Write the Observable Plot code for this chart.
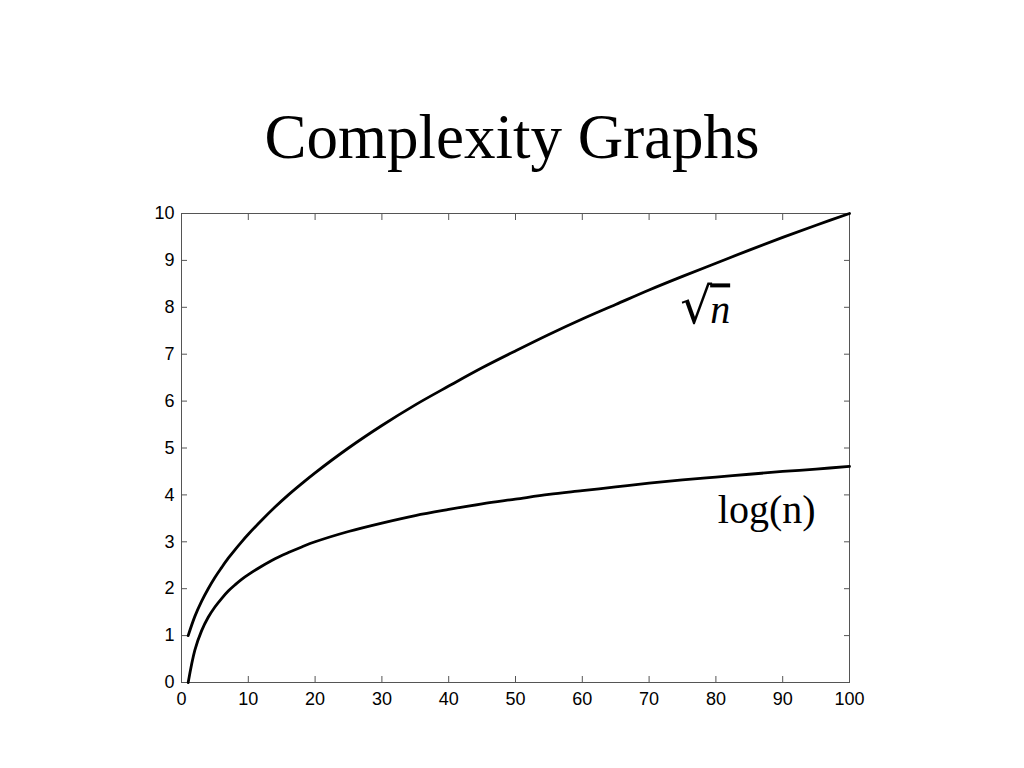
<!DOCTYPE html>
<html>
<head>
<meta charset="utf-8">
<script src="https://cdn.jsdelivr.net/npm/d3@7"></script>
<script src="https://cdn.jsdelivr.net/npm/@observablehq/plot@0.6"></script>
<style>
  html, body { margin: 0; padding: 0; background: #fff; }
  #title { margin: 0; padding-top: 106px; height: 62px; line-height: 62px; font-size: 63px;
           font-family: "Liberation Serif", "Times New Roman", serif; font-weight: normal;
           text-align: center; color: #000; }
  #chart svg { display: block; }
</style>
</head>
<body>
<div id="title">Complexity Graphs</div>
<div id="chart"></div>
<script>
// Values
const n = [1,2,3,4,5,6,7,8,9,10,12,14,16,18,20,25,30,35,40,45,50,55,60,65,70,75,80,85,90,95,100];
const sqrtValues = [1,1.41,1.73,2,2.24,2.45,2.65,2.83,3,3.16,3.46,3.74,4,4.24,4.47,5,5.48,5.92,6.32,6.71,7.07,7.42,7.75,8.06,8.37,8.66,8.94,9.22,9.49,9.75,10];
const logValues = [0,0.69,1.10,1.39,1.61,1.79,1.95,2.08,2.20,2.30,2.48,2.64,2.77,2.89,3.00,3.22,3.40,3.56,3.69,3.81,3.91,4.01,4.09,4.17,4.25,4.32,4.38,4.44,4.50,4.55,4.61];
const xTicks = [0,10,20,30,40,50,60,70,80,90,100];
const yTicks = [0,1,2,3,4,5,6,7,8,9,10];
const labelNames = ["√n", "log(n)"];
const labelX = [78.4, 87.6];
const labelY = [7.93, 3.67];

const series = [
  ...n.map((v, i) => ({n: v, value: sqrtValues[i], series: "sqrt"})),
  ...n.map((v, i) => ({n: v, value: logValues[i], series: "log"}))
];
const labels = labelNames.map((t, i) => ({text: t, x: labelX[i], y: labelY[i]}));

const axisColor = "#555";
const tickFont = {fontSize: 18, fontFamily: "'Liberation Sans', Arial, sans-serif", fill: "#000"};

const chart = Plot.plot({
  width: 1024,
  height: 564,
  marginTop: 45,
  marginBottom: 50,
  marginLeft: 181,
  marginRight: 175,
  style: {background: "#fff", overflow: "visible"},
  x: {domain: [0, 100]},
  y: {domain: [0, 10]},
  marks: [
    Plot.frame({stroke: axisColor, strokeWidth: 1}),
    Plot.axisX(xTicks, {anchor: "bottom", tickSize: -6, tickPadding: 16, stroke: axisColor, label: null, ...tickFont}),
    Plot.axisX(xTicks, {anchor: "top", tickSize: -6, tickFormat: () => "", stroke: axisColor, label: null}),
    Plot.axisY(yTicks, {anchor: "left", tickSize: -6, tickPadding: 13, stroke: axisColor, label: null, ...tickFont}),
    Plot.axisY(yTicks, {anchor: "right", tickSize: -6, tickFormat: () => "", stroke: axisColor, label: null}),
    Plot.line(series, {x: "n", y: "value", z: "series", stroke: "#000", strokeWidth: 2.8, curve: "catmull-rom"}),
    Plot.text(labels, {x: "x", y: "y", text: "text", fontSize: 40, fill: "#000",
      fontFamily: "'Liberation Serif', 'Times New Roman', serif", textAnchor: "middle", className: "annot"})
  ]
});
document.getElementById("chart").appendChild(chart);

// Style the square-root label: larger radical plus italic n with a thin overbar
d3.select(chart).selectAll(".annot text").each(function () {
  const el = d3.select(this);
  if (el.text() === "√n") {
    el.text("");
    el.append("tspan").attr("font-size", 50).attr("font-family", "'DejaVu Serif', serif").attr("font-weight", 200).text("√");
    el.append("tspan").attr("font-style", "italic").attr("text-decoration", "overline").attr("dx", -2).text("n");
  }
});
</script>
</body>
</html>
